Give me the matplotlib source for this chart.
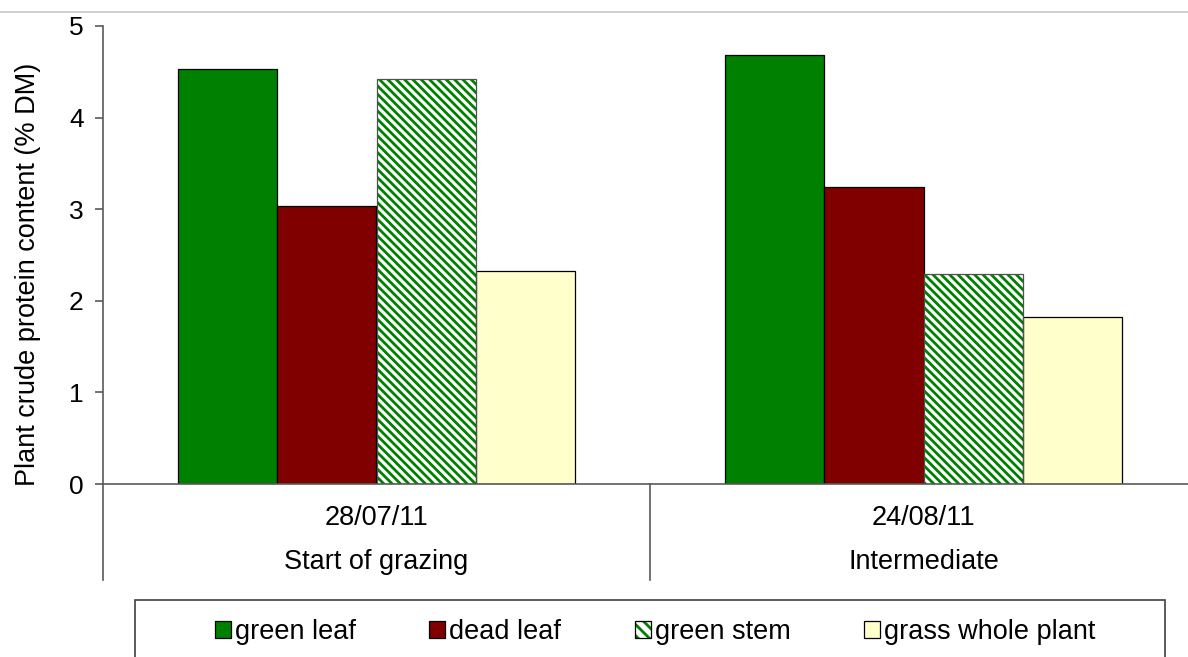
import matplotlib.pyplot as plt
import numpy as np
from matplotlib.patches import Rectangle, Patch
from matplotlib.lines import Line2D
from matplotlib.legend_handler import HandlerPatch

plt.rcParams['font.family'] = ['Liberation Sans', 'DejaVu Sans']
plt.rcParams['hatch.linewidth'] = 2.0

dates = ['28/07/11', '24/08/11']
stages = ['Start of grazing', 'Intermediate']
series = ['green leaf', 'dead leaf', 'green stem', 'grass whole plant']
green_leaf = [4.53, 4.68]
dead_leaf = [3.03, 3.24]
green_stem = [4.42, 2.29]
grass_whole = [2.32, 1.82]

values = [green_leaf, dead_leaf, green_stem, grass_whole]
colors = ['#008000', '#800000', 'white', '#FFFFCC']
hatches = [None, None, '\\\\\\\\', None]
axcol = '#5a5a5a'
fs = 19.5

W, H = 1188, 657
fig = plt.figure(figsize=(W / 100, H / 100), dpi=100)

# axes placed in pixel terms (right edge runs past the picture)
x0, x1, y0, y1 = 103, 1197, 484, 26
ax = fig.add_axes([x0 / W, 1 - y0 / H, (x1 - x0) / W, (y0 - y1) / H])

# grey line across the top
fig.add_artist(Line2D([0, 1], [1 - 12 / H] * 2, color='#c8c8c8', lw=1.2))

w = 1 / 5.5
centers = np.array([0.5, 1.5])
for i, (vals, c, h) in enumerate(zip(values, colors, hatches)):
    xs = centers + (i - 1.5) * w
    if h:
        # green stripes first, then the outline on top
        ax.bar(xs, vals, width=w, color=c, edgecolor='#008000', linewidth=0,
               hatch=h, zorder=2)
        ax.bar(xs, vals, width=w, fill=False, edgecolor='#505050',
               linewidth=0.9, zorder=3)
    else:
        ax.bar(xs, vals, width=w, color=c, edgecolor='black', linewidth=0.9,
               zorder=2)

ax.set_xlim(0, 2)
ax.set_ylim(0, 5)
ax.set_yticks(range(6))
ax.set_xticks([])
for s in ['top', 'right']:
    ax.spines[s].set_visible(False)
for s in ['left', 'bottom']:
    ax.spines[s].set_color(axcol)
    ax.spines[s].set_linewidth(1.2)
ax.tick_params(axis='y', direction='out', length=6, width=1.2, color=axcol,
               labelsize=19, pad=8)

# category dividers and two-level labels below the axis
ybot = (y0 - 580) / (y0 - y1)
for xd in [0, 1, 2]:
    ax.plot([xd, xd], [0, ybot], transform=ax.get_xaxis_transform(),
            color=axcol, lw=1.2, clip_on=False)
for cx, d, s in zip(centers, dates, stages):
    ax.text(cx, (y0 - 518) / (y0 - y1), d, transform=ax.get_xaxis_transform(),
            ha='center', va='center', fontsize=fs)
    ax.text(cx, (y0 - 562) / (y0 - y1), s, transform=ax.get_xaxis_transform(),
            ha='center', va='center', fontsize=fs)

fig.text(28 / W, 1 - 274 / H, 'Plant crude protein content (% DM)',
         rotation=90, ha='center', va='center', fontsize=fs)

# legend box (bottom cut off by the picture edge)
fig.add_artist(Rectangle((135 / W, -0.05), (1165 - 135) / W, 0.05 + (H - 600) / H,
                         transform=fig.transFigure, fill=False,
                         edgecolor='#404040', lw=1.2))


class StripeHandler(HandlerPatch):
    def create_artists(self, legend, orig_handle, xdescent, ydescent, width,
                       height, fontsize, trans):
        back = Rectangle((-xdescent, -ydescent), width, height, facecolor='white',
                         edgecolor='#008000', hatch='\\\\\\', linewidth=0,
                         transform=trans)
        edge = Rectangle((-xdescent, -ydescent), width, height, fill=False,
                         edgecolor='black', linewidth=0.9, transform=trans)
        return [back, edge]


handles = [Patch(facecolor=c, edgecolor='black', linewidth=0.9)
           for c in colors]
fig.legend(handles, series, loc='center', bbox_to_anchor=(655 / W, 1 - 632 / H),
           ncol=4, frameon=False, fontsize=fs, handlelength=0.6, handleheight=0.6,
           handletextpad=0.15, columnspacing=2.7,
           handler_map={handles[2]: StripeHandler()})

fig.savefig('out.png', dpi=100)
